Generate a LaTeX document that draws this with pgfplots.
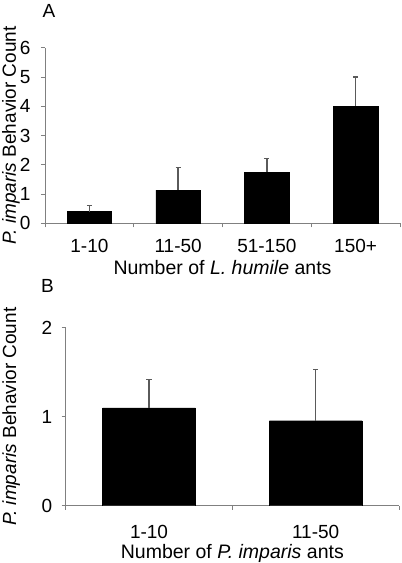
\documentclass[border=0pt]{standalone}
\usepackage{fontspec}
\setmainfont{Liberation Sans}
\usepackage{pgfplots}
\pgfplotsset{compat=1.18}
\definecolor{axgray}{HTML}{808080}
\definecolor{errgray}{HTML}{5A5A5A}
\begin{document}
\begin{tikzpicture}[font=\fontsize{19}{22}\selectfont]
\useasboundingbox (0,0) rectangle (402pt,-563pt);
\pgfplotsset{
  mystyle/.style={
    scale only axis,
    axis x line*=bottom, axis y line*=left,
    x axis line style={-, draw=axgray, line width=0.9pt},
    y axis line style={-, draw=axgray, line width=0.9pt},
    tick align=outside,
    major tick length=4pt, minor tick length=4pt,
    every tick/.style={draw=axgray, line width=0.9pt},
    major x tick style={draw=none},
    ymin=0,
    xtick=data,
    /pgf/number format/assume math mode=true,
    ylabel style={rotate=0, anchor=base, font=\fontsize{19}{22}\selectfont},
    xlabel style={anchor=base, font=\fontsize{19.5}{22}\selectfont},
    yticklabel style={anchor=east, font=\fontsize{19}{22}\selectfont},
    xticklabel style={font=\fontsize{19}{22}\selectfont},
    error bars/error bar style={draw=errgray, line width=1.4pt},
    error bars/error mark options={rotate=90, mark size=2.6pt, line width=1.4pt, draw=errgray},
  }
}
\begin{axis}[mystyle,
  at={(45pt,-223.3pt)}, anchor=south west,
  width=355pt, height=175.6pt,
  xmin=-0.5, xmax=3.5, ymax=6,
  ytick={0,1,2,3,4,5,6},
  yticklabel style={xshift=-7pt},
  xticklabels={1-10,11-50,51-150,150+},
  minor xtick={-0.5,0.5,1.5,2.5,3.5},
  xticklabel style={anchor=base, yshift=-25pt},
  ylabel={\textit{P. imparis} Behavior Count},
  ylabel style={at={(axis description cs:-0.0817,0.5)}},
  xlabel={Number of \textit{L. humile} ants},
  xlabel style={at={(axis description cs:0.5,-0.294)}},
]
\addplot[ybar, bar width=0.5, fill=black, draw=black,
  error bars/.cd, y dir=plus, y explicit]
  coordinates {(0,0.40) +- (0,0.20) (1,1.13) +- (0,0.78) (2,1.74) +- (0,0.48) (3,4.00) +- (0,1.00)};
\end{axis}
\begin{axis}[mystyle,
  at={(65.7pt,-505.7pt)}, anchor=south west,
  width=333.3pt, height=178pt,
  xmin=-0.5, xmax=1.5, ymax=2,
  ytick={0,1,2},
  yticklabel style={xshift=-6pt},
  xticklabels={1-10,11-50},
  minor xtick={-0.5,0.5,1.5},
  xticklabel style={anchor=base, yshift=-29pt},
  ylabel={\textit{P. imparis} Behavior Count},
  ylabel style={at={(axis description cs:-0.149,0.5)}},
  xlabel={Number of \textit{P. imparis} ants},
  xlabel style={at={(axis description cs:0.5,-0.294)}},
]
\addplot[ybar, bar width=0.556, fill=black, draw=black,
  error bars/.cd, y dir=plus, y explicit]
  coordinates {(0,1.10) +- (0,0.32) (1,0.955) +- (0,0.575)};
\end{axis}
\node[anchor=center] at (49pt,-11pt) {A};
\node[anchor=center] at (47.5pt,-286pt) {B};
\end{tikzpicture}
\end{document}
